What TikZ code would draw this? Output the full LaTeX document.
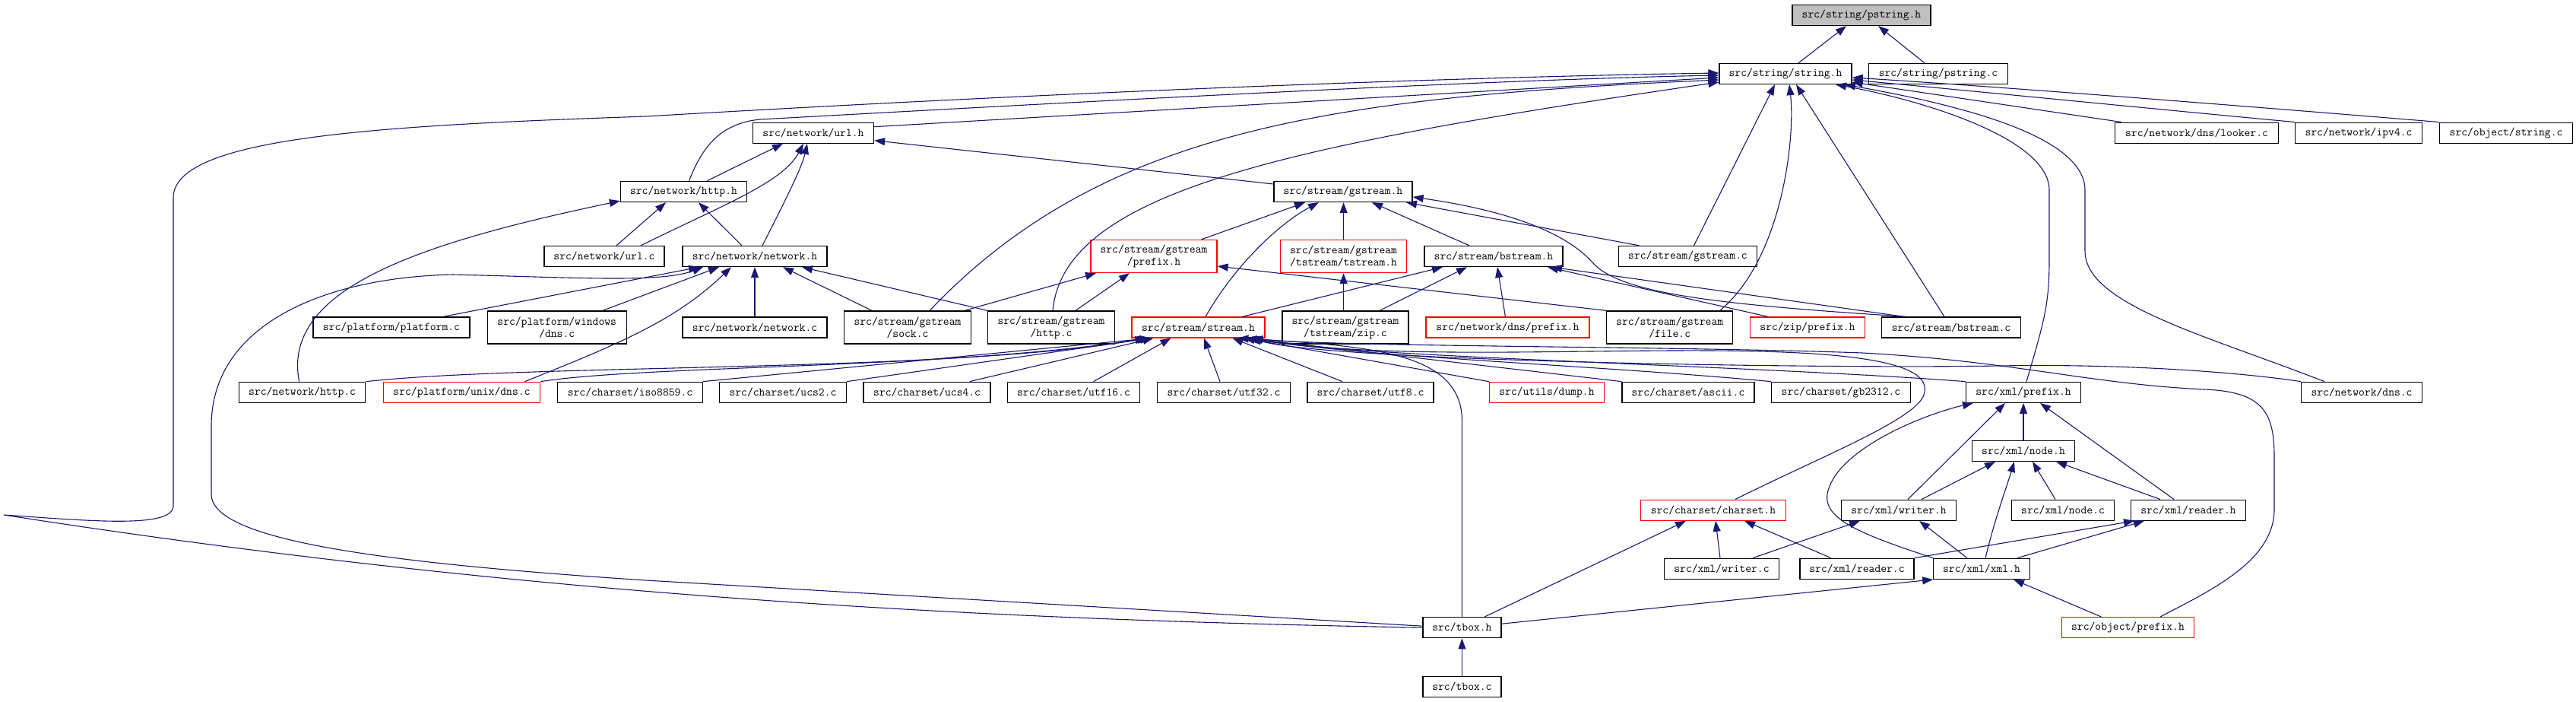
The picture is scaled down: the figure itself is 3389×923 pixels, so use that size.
\documentclass[tikz,border=0pt]{standalone}
\usepackage{fontspec}
\usetikzlibrary{arrows.meta}
\definecolor{edgec}{HTML}{191970}
\definecolor{hdrgray}{HTML}{BFBFBF}
\begin{document}
\begin{tikzpicture}[x=1pt,y=-1pt,
  box/.style={draw=black, line width=1.3pt, fill=white, minimum height=27pt, inner sep=0pt, align=center, font=\ttfamily\fontsize{15.2}{16}\selectfont},
  tall/.style={minimum height=43pt},
  redbox/.style={draw=red},
  edge/.style={draw=edgec, line width=1.1pt, -{Triangle[length=14pt,width=10pt]}}]
\useasboundingbox (0,0) rectangle (3389,923);
% nodes
\node[box,fill=hdrgray,minimum width=182pt] (pstrh) at (2449,20) {src/string/pstring.h};
\node[box,minimum width=174pt] (strh) at (2349,97) {src/string/string.h};
\node[box,minimum width=183pt] (pstrc) at (2550,97) {src/string/pstring.c};
\node[box,minimum width=159pt] (urlh) at (1070,174.7) {src/network/url.h};
\node[box,minimum width=215pt] (looker) at (2890,174.7) {src/network/dns/looker.c};
\node[box,minimum width=167pt] (ipv4) at (3103,174.7) {src/network/ipv4.c};
\node[box,minimum width=175pt] (objstr) at (3297,174.7) {src/object/string.c};
\node[box,minimum width=166pt] (httph) at (899.5,252) {src/network/http.h};
\node[box,minimum width=182pt] (gsh) at (1767,252) {src/stream/gstream.h};
\node[box,minimum width=158pt] (urlc) at (795,337) {src/network/url.c};
\node[box,minimum width=190pt] (neth) at (993,337) {src/network/network.h};
\node[box,tall,redbox,minimum width=166pt] (gspre) at (1518,337) {src/stream/gstream\\/prefix.h};
\node[box,tall,redbox,minimum width=166pt] (tsh) at (1767.6,337) {src/stream/gstream\\/tstream/tstream.h};
\node[box,minimum width=182pt] (bsh) at (1965,337) {src/stream/bstream.h};
\node[box,minimum width=182.5pt] (gsc) at (2220.5,337) {src/stream/gstream.c};
\node[box,minimum width=206pt] (platc) at (515,430.5) {src/platform/platform.c};
\node[box,tall,minimum width=183pt] (windns) at (732.7,430.5) {src/platform/windows\\/dns.c};
\node[box,minimum width=190pt] (netc) at (993,430.5) {src/network/network.c};
\node[box,tall,minimum width=167pt] (sockc) at (1194,430.5) {src/stream/gstream\\/sock.c};
\node[box,tall,minimum width=167pt] (gshttpc) at (1383,430.5) {src/stream/gstream\\/http.c};
\node[box,redbox,minimum width=175pt] (streamh) at (1576.5,430.5) {src/stream/stream.h};
\node[box,tall,minimum width=166pt] (zipc) at (1770,430.5) {src/stream/gstream\\/tstream/zip.c};
\node[box,redbox,minimum width=215pt] (dnspre) at (1983.4,430.5) {src/network/dns/prefix.h};
\node[box,tall,minimum width=166pt] (filec) at (2196.7,430.5) {src/stream/gstream\\/file.c};
\node[box,redbox,minimum width=151pt] (zippre) at (2378,430.5) {src/zip/prefix.h};
\node[box,minimum width=183pt] (bsc) at (2567,430.5) {src/stream/bstream.c};
\node[box,minimum width=166.4pt] (nethttpc) at (397.6,515.8) {src/network/http.c};
\node[box,redbox,minimum width=206.5pt] (unixdns) at (607.5,515.8) {src/platform/unix/dns.c};
\node[box,minimum width=190.6pt] (iso) at (829,515.8) {src/charset/iso8859.c};
\node[box,minimum width=167pt] (ucs2) at (1030,515.8) {src/charset/ucs2.c};
\node[box,minimum width=167pt] (ucs4) at (1219.6,515.8) {src/charset/ucs4.c};
\node[box,minimum width=174.5pt] (utf16) at (1412.5,515.8) {src/charset/utf16.c};
\node[box,minimum width=175pt] (utf32) at (1610,515.8) {src/charset/utf32.c};
\node[box,minimum width=166pt] (utf8) at (1803,515.8) {src/charset/utf8.c};
\node[box,redbox,minimum width=151pt] (dump) at (2035,515.8) {src/utils/dump.h};
\node[box,minimum width=174pt] (ascii) at (2221,515.8) {src/charset/ascii.c};
\node[box,minimum width=183pt] (gb) at (2422,515.8) {src/charset/gb2312.c};
\node[box,minimum width=151pt] (xmlpre) at (2662,515.8) {src/xml/prefix.h};
\node[box,minimum width=159pt] (netdns) at (3107,515.8) {src/network/dns.c};
\node[box,minimum width=135.4pt] (nodeh) at (2662,592.8) {src/xml/node.h};
\node[box,redbox,minimum width=191pt] (charset) at (2254,670.7) {src/charset/charset.h};
\node[box,minimum width=150.4pt] (writerh) at (2498,670.7) {src/xml/writer.h};
\node[box,minimum width=135pt] (nodec) at (2714,670.7) {src/xml/node.c};
\node[box,minimum width=151pt] (readerh) at (2879,670.7) {src/xml/reader.h};
\node[box,minimum width=150.4pt] (writerc) at (2265,747.8) {src/xml/writer.c};
\node[box,minimum width=150pt] (readerc) at (2443,747.8) {src/xml/reader.c};
\node[box,minimum width=126.4pt] (xmlh) at (2607,747.8) {src/xml/xml.h};
\node[box,minimum width=103pt] (tboxh) at (1923.4,825.2) {src/tbox.h};
\node[box,redbox,minimum width=174pt] (objpre) at (2799.5,825.2) {src/object/prefix.h};
\node[box,minimum width=103pt] (tboxc) at (1923.4,902.8) {src/tbox.c};
% edges into pstring.h
\draw[edge] ([xshift=17pt]strh.north) -- ([xshift=-20pt]pstrh.south);
\draw[edge] ([xshift=-18pt]pstrc.north) -- ([xshift=22pt]pstrh.south);
% edges into string.h
\draw[edge] ([yshift=8pt]urlh.east) -- ([yshift=-5pt]strh.west);
\draw[edge] ([xshift=7pt]httph.north) .. controls (925,190) and (950,162) .. (1000,157) .. controls (1400,135) and (1950,105) .. ([yshift=-2pt]strh.west);
\draw[edge] (tboxh.west) .. controls (1300,815) and (700,785) .. (5,677) .. controls (120,685) and (228,695) .. (228,665) -- (228,260) .. controls (228,180) and (500,165) .. (850,153) .. controls (1500,115) and (2000,100) .. ([yshift=1pt]strh.west);
\draw[edge] ([xshift=29pt]sockc.north) .. controls (1450,170) and (1750,128) .. ([yshift=-8pt]strh.west);
\draw[edge] ([xshift=2pt]gshttpc.north) .. controls (1400,250) and (1700,190) .. ([yshift=-11pt]strh.west);
\draw[edge] ([xshift=8pt]gsc.north) -- ([xshift=-14pt]strh.south);
\draw[edge] ([xshift=66pt]filec.north) .. controls (2345,340) and (2362,180) .. ([xshift=5pt]strh.south);
\draw[edge] ([xshift=-9pt]bsc.north) -- ([xshift=14pt]strh.south);
\draw[edge] ([xshift=4pt]xmlpre.north) .. controls (2690,420) and (2696,400) .. (2696,340) -- (2696,250) .. controls (2696,180) and (2520,130) .. ([xshift=66pt]strh.south);
\draw[edge] ([xshift=-49pt]netdns.north) .. controls (2900,440) and (2743,400) .. (2743,330) -- (2743,250) .. controls (2743,175) and (2560,135) .. ([xshift=78pt]strh.south);
\draw[edge] ([xshift=-99pt]looker.north) -- ([yshift=-11pt]strh.east);
\draw[edge] ([xshift=-84pt]ipv4.north) .. controls (2800,140) and (2600,120) .. ([yshift=-8pt]strh.east);
\draw[edge] ([xshift=-88pt]objstr.north) .. controls (2900,135) and (2600,112) .. ([yshift=-5pt]strh.east);
% url.h, http.h
\draw[edge] ([xshift=30.5pt]httph.north) -- ([xshift=-40pt]urlh.south);
\draw[edge] ([xshift=48pt]urlc.north) .. controls (950,270) and (1030,240) .. ([xshift=-13pt]urlh.south);
\draw[edge] ([xshift=10pt]neth.north) .. controls (1035,260) and (1055,220) .. ([xshift=-8pt]urlh.south);
\draw[edge] ([yshift=10pt]gsh.west) -- ([yshift=-10pt]urlh.east);
\draw[edge] ([xshift=16pt]urlc.north) -- ([xshift=-23.5pt]httph.south);
\draw[edge] ([xshift=-17pt]neth.north) -- ([xshift=19.5pt]httph.south);
\draw[edge] ([xshift=-4pt]nethttpc.north) .. controls (370,380) and (550,320) .. ([yshift=2pt]httph.south west);
% network.h
\draw[edge] ([yshift=2pt]tboxh.west) -- (850,763) .. controls (500,740) and (278,710) .. (278,650) -- (278,560) .. controls (278,430) and (420,365) .. (596,361) .. controls (760,365) and (870,372) .. ([xshift=-68pt]neth.south);
\draw[edge] ([xshift=68pt]platc.north) -- ([xshift=-73pt]neth.south);
\draw[edge] ([xshift=60pt]windns.north) -- ([xshift=-47pt]neth.south);
\draw[edge] ([xshift=83pt]unixdns.north) .. controls (820,450) and (890,420) .. ([xshift=-31pt]neth.south);
\draw[edge] (netc) -- (neth);
\draw[edge] ([xshift=-47pt]sockc.north) -- ([xshift=37pt]neth.south);
\draw[edge] (gshttpc.north west) -- ([xshift=62pt]neth.south);
% gstream.h
\draw[edge] ([xshift=62.6pt]gspre.north) -- ([xshift=-50pt]gsh.south);
\draw[edge] ([xshift=9.5pt]streamh.north) .. controls (1630,340) and (1690,290) .. ([xshift=-32pt]gsh.south);
\draw[edge] (tsh.north) -- (tsh.north |- gsh.south);
\draw[edge] ([xshift=-32pt]bsh.north) -- ([xshift=38pt]gsh.south);
\draw[edge] ([xshift=-64pt]gsc.north) -- ([xshift=83pt]gsh.south);
\draw[edge] ([xshift=-58pt]bsc.north) .. controls (2250,400) and (2130,385) .. (2095,345) .. controls (2050,295) and (1950,272) .. ([yshift=-7pt]gsh.east);
% gstream/prefix.h, tstream.h
\draw[edge] ([xshift=75pt]sockc.north) -- ([xshift=-76pt]gspre.south);
\draw[edge] ([xshift=32pt]gshttpc.north) -- ([xshift=-32pt]gspre.south);
\draw[edge] (filec.north west) -- ([yshift=-13pt]gspre.east);
\draw[edge] (zipc.north -| tsh.south) -- (tsh.south);
% bstream.h
\draw[edge] ([xshift=58pt]streamh.north) -- ([xshift=-67pt]bsh.south);
\draw[edge] ([xshift=45pt]zipc.north) -- ([xshift=-35pt]bsh.south);
\draw[edge] ([xshift=-3pt]dnspre.north) -- ([xshift=5pt]bsh.south);
\draw[edge] ([xshift=-52pt]zippre.north) -- ([xshift=71pt]bsh.south);
\draw[edge] ([xshift=-62pt]bsc.north) -- ([xshift=76pt]bsh.south);
% stream.h
\draw[edge] (nethttpc.north east) .. controls (700,478) and (1250,490) .. ([xshift=-69pt]streamh.south);
\draw[edge] (unixdns.north east) .. controls (850,480) and (1250,485) .. ([xshift=-66pt]streamh.south);
\draw[edge] (iso.north east) -- ([xshift=-63pt]streamh.south);
\draw[edge] (ucs2.north east) -- ([xshift=-62pt]streamh.south);
\draw[edge] ([xshift=56pt]ucs4.north) -- ([xshift=-59pt]streamh.south);
\draw[edge] ([xshift=26pt]utf16.north) -- ([xshift=-36pt]streamh.south);
\draw[edge] ([xshift=-5pt]utf32.north) -- ([xshift=7.5pt]streamh.south);
\draw[edge] ([xshift=-37pt]utf8.north) -- ([xshift=45pt]streamh.south);
\draw[edge] (tboxh.north) -- (1923.4,550) .. controls (1920,462) and (1800,455) .. ([xshift=52pt]streamh.south);
\draw[edge] (dump.north west) -- ([xshift=60pt]streamh.south);
\draw[edge] (ascii.north west) -- ([xshift=63pt]streamh.south);
\draw[edge] (gb.north west) .. controls (2100,480) and (1800,470) .. ([xshift=65pt]streamh.south);
\draw[edge] (xmlpre.north west) .. controls (2300,480) and (1780,470) .. ([xshift=67pt]streamh.south);
\draw[edge] (netdns.north west) .. controls (2950,490) and (2800,478) .. (2630,481) .. controls (2400,485) and (1750,475) .. ([xshift=69pt]streamh.south);
\draw[edge] ([xshift=42.5pt]objpre.north) .. controls (2900,780) and (2992,740) .. (2992,670) -- (2992,600) .. controls (2992,540) and (2975,515) .. (2900,512) .. controls (2750,505) and (2650,475) .. (2450,464) .. controls (2200,455) and (1750,456) .. ([xshift=71pt]streamh.south);
\draw[edge] ([xshift=29pt]charset.north) .. controls (2400,598) and (2530,548) .. (2532,515) .. controls (2540,470) and (2400,460) .. (2200,461) .. controls (2000,462) and (1800,470) .. ([xshift=70pt]streamh.south);
% charset.h
\draw[edge] ([xshift=29.6pt]tboxh.north) -- ([xshift=-36pt]charset.south);
\draw[edge] ([xshift=-2pt]writerc.north) -- ([xshift=3pt]charset.south);
\draw[edge] ([xshift=-34pt]readerc.north) -- ([xshift=41pt]charset.south);
% xml
\draw[edge] ([xshift=41pt]writerc.north) -- ([xshift=-51pt]writerh.south);
\draw[edge] (readerc.north east) -- ([xshift=-71pt]readerh.south);
\draw[edge] ([xshift=47pt]xmlh.north) -- ([xshift=-58pt]readerh.south);
\draw[edge] ([xshift=-19pt]xmlh.north) -- ([xshift=27pt]writerh.south);
\draw[edge] ([xshift=5pt]xmlh.north) .. controls (2625,680) and (2640,640) .. ([xshift=-12pt]nodeh.south);
\draw[edge] ([xshift=30pt]writerh.north) -- ([xshift=-37pt]nodeh.south);
\draw[edge] ([xshift=-10pt]nodec.north) -- ([xshift=12pt]nodeh.south);
\draw[edge] ([xshift=-37pt]readerh.north) -- ([xshift=43pt]nodeh.south);
\draw[edge] ([xshift=12pt]writerh.north) -- ([xshift=-24pt]xmlpre.south);
\draw[edge] (nodeh) -- (xmlpre);
\draw[edge] ([xshift=-19pt]readerh.north) -- ([xshift=22pt]xmlpre.south);
\draw[edge] (xmlh.north west) .. controls (2440,700) and (2395,680) .. (2405,645) .. controls (2420,590) and (2530,545) .. ([xshift=-66pt]xmlpre.south);
\draw[edge] ([yshift=5pt]tboxh.east) -- (xmlh.south west);
\draw[edge] ([xshift=-35pt]objpre.north) -- ([xshift=42pt]xmlh.south);
\draw[edge] (tboxc) -- (tboxh);
\end{tikzpicture}
\end{document}
